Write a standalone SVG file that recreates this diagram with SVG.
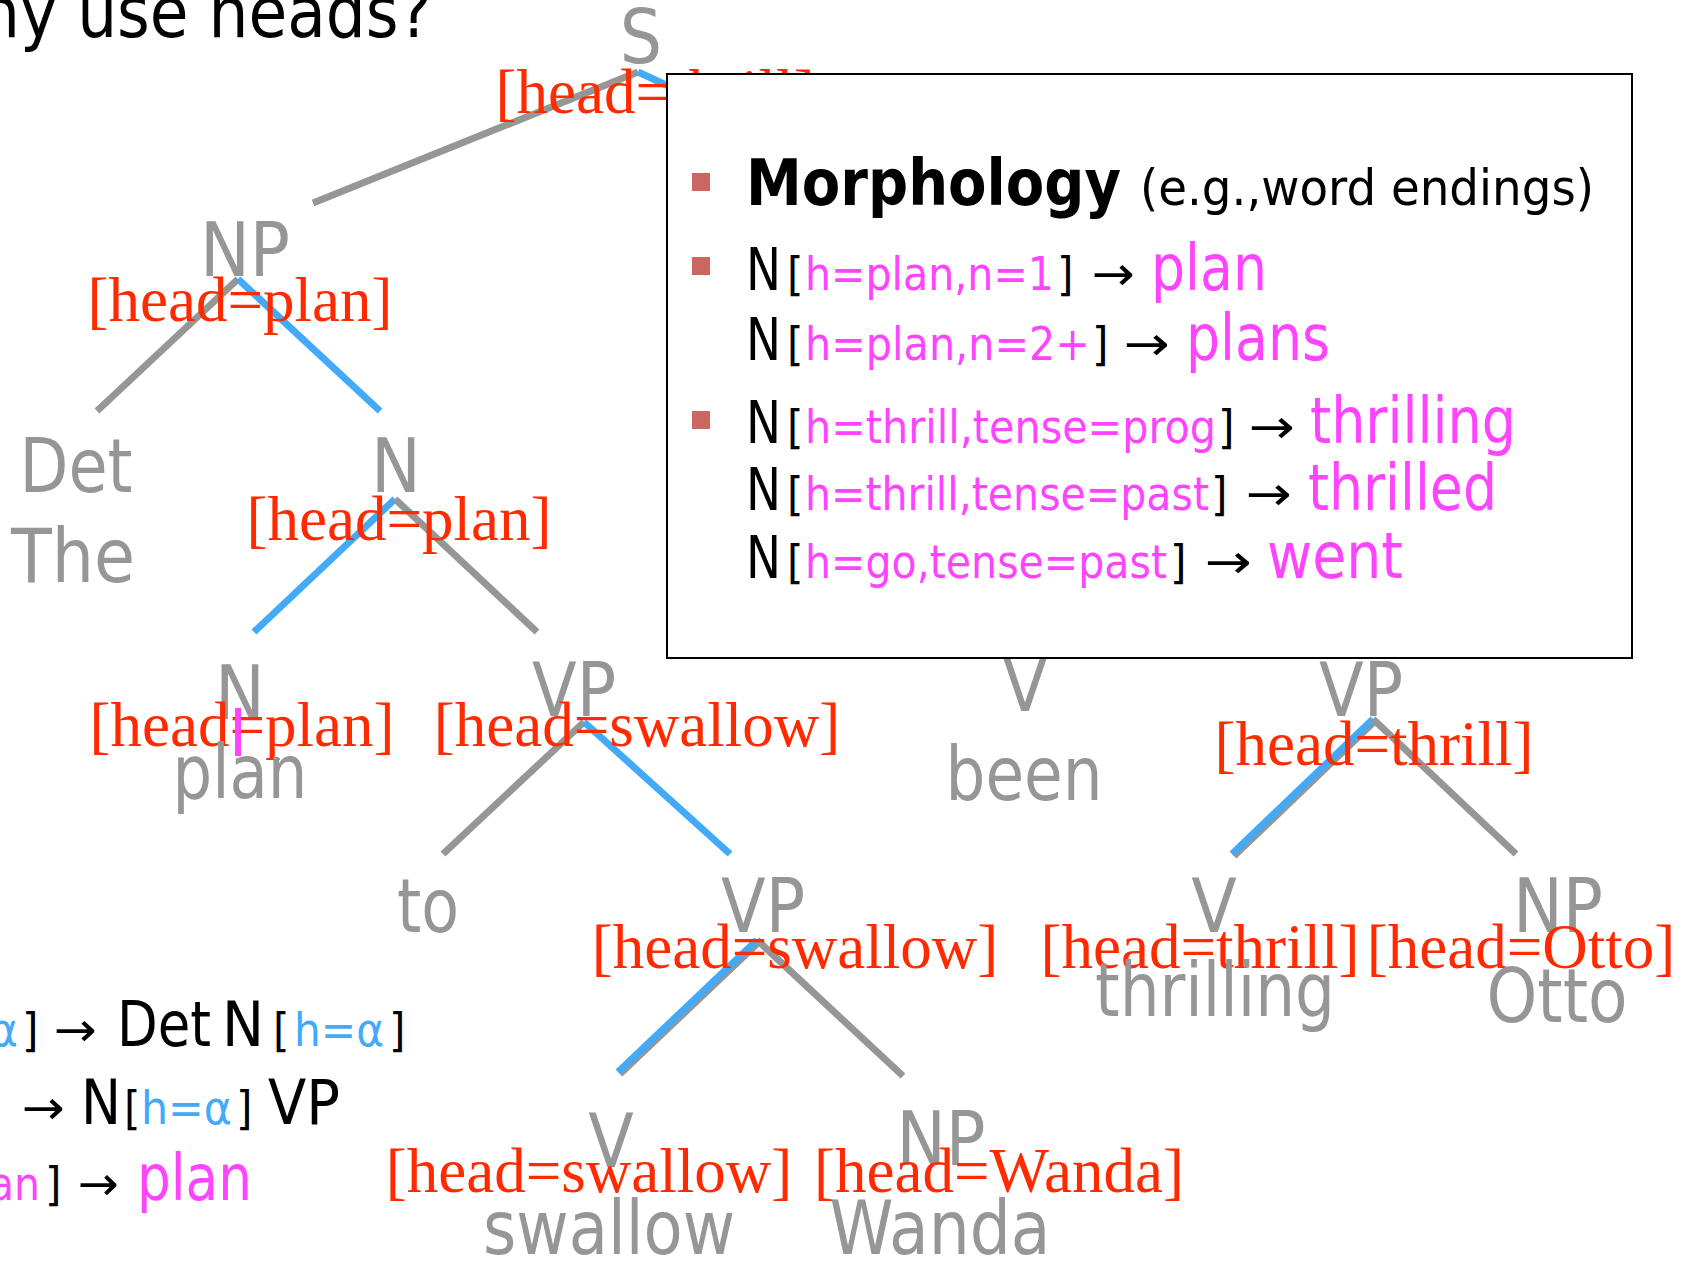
<svg xmlns="http://www.w3.org/2000/svg" width="1695" height="1265" viewBox="0 0 1695 1265">
  <style>
    .sans { font-family: "DejaVu Sans Condensed", "DejaVu Sans", sans-serif; font-stretch: condensed; }
    .node { font-family: "DejaVu Sans Condensed", "DejaVu Sans", sans-serif; font-stretch: condensed; font-size: 74px; fill: #969696; text-anchor: middle; }
    .head { font-family: "Liberation Serif", "Times New Roman", serif; font-size: 63px; fill: #ff2a00; text-anchor: middle; }
    .edge { stroke: #969696; stroke-width: 7; fill: none; stroke-linecap: butt; }
    .hedge { stroke: #42aaf8; stroke-width: 7; fill: none; stroke-linecap: butt; }
    .blk { fill: #000000; }
    .mag { fill: #ff44ff; }
    .blu { fill: #42aaf8; }
    .big { font-size: 62px; }
    .mid { font-size: 59px; }
    .small { font-size: 47px; }
    .word { font-size: 64px; }
    .bullet { fill: #cc6661; }
  </style>

  <!-- slide title, cropped at the left edge -->
  <text class="sans blk" x="-20" y="37" font-size="72" textLength="452" lengthAdjust="spacingAndGlyphs">hy use heads?</text>

  <!-- tree edges; blue marks the head child -->
  <g id="connectors">
    <line class="edge" x1="638" y1="72" x2="313" y2="203"/>
    <line class="hedge" x1="638" y1="72" x2="900" y2="193"/>
    <line class="edge" x1="238" y1="279" x2="97" y2="411"/>
    <line class="hedge" x1="238" y1="279" x2="380" y2="411"/>
    <line class="hedge" x1="395" y1="499" x2="254" y2="632"/>
    <line class="edge" x1="395" y1="499" x2="537" y2="632"/>
    <line class="edge" x1="584" y1="722" x2="443" y2="854"/>
    <line class="hedge" x1="584" y1="722" x2="730" y2="854"/>
    <line class="edge" x1="759" y1="942" x2="620" y2="1074"/>
    <line class="hedge" x1="757" y1="940" x2="618" y2="1072"/>
    <line class="edge" x1="757" y1="940" x2="903" y2="1076"/>
    <line class="edge" x1="1375" y1="721" x2="1234" y2="856"/>
    <line class="hedge" x1="1373" y1="719" x2="1232" y2="854"/>
    <line class="edge" x1="1373" y1="719" x2="1516" y2="854"/>
  </g>

  <!-- tree nodes -->
  <g id="node-S">
    <text class="node" x="641" y="63">S</text>
    <text class="head" x="655" y="113">[head=thrill]</text>
  </g>
  <g id="node-NP">
    <text class="node" x="245" y="276" textLength="90" lengthAdjust="spacingAndGlyphs">NP</text>
    <text class="head" x="240" y="321">[head=plan]</text>
  </g>
  <g id="node-Det">
    <text class="node" x="76" y="492" textLength="113" lengthAdjust="spacingAndGlyphs">Det</text>
    <text class="node" x="73" y="582" textLength="124" lengthAdjust="spacingAndGlyphs">The</text>
  </g>
  <g id="node-N1">
    <text class="node" x="396" y="492">N</text>
    <text class="head" x="399" y="540">[head=plan]</text>
  </g>
  <g id="node-N2">
    <text class="node" x="240" y="719">N</text>
    <text class="head" x="242" y="746">[head=plan]</text>
    <text class="node" x="240" y="798" textLength="135" lengthAdjust="spacingAndGlyphs">plan</text>
    <rect x="235" y="708" width="6" height="48" fill="#ff44ff"/>
  </g>
  <g id="node-VP1">
    <text class="node" x="574" y="716" textLength="84" lengthAdjust="spacingAndGlyphs">VP</text>
    <text class="head" x="637" y="746">[head=swallow]</text>
  </g>
  <g id="node-to">
    <text class="node" x="428" y="932" textLength="62" lengthAdjust="spacingAndGlyphs">to</text>
  </g>
  <g id="node-VP2">
    <text class="node" x="763" y="932" textLength="84" lengthAdjust="spacingAndGlyphs">VP</text>
    <text class="head" x="795" y="968">[head=swallow]</text>
  </g>
  <g id="node-V-swallow">
    <text class="node" x="611" y="1167">V</text>
    <text class="head" x="589" y="1192">[head=swallow]</text>
    <text class="node" x="609" y="1254" textLength="252" lengthAdjust="spacingAndGlyphs">swallow</text>
  </g>
  <g id="node-NP-Wanda">
    <text class="node" x="941" y="1165" textLength="89" lengthAdjust="spacingAndGlyphs">NP</text>
    <text class="head" x="999" y="1192">[head=Wanda]</text>
    <text class="node" x="940" y="1254" textLength="221" lengthAdjust="spacingAndGlyphs">Wanda</text>
  </g>
  <g id="node-V-been">
    <text class="node" x="1025" y="711">V</text>
    <text class="node" x="1024" y="800" textLength="157" lengthAdjust="spacingAndGlyphs">been</text>
  </g>
  <g id="node-VP3">
    <text class="node" x="1361" y="716" textLength="84" lengthAdjust="spacingAndGlyphs">VP</text>
    <text class="head" x="1374" y="765">[head=thrill]</text>
  </g>
  <g id="node-V-thrilling">
    <text class="node" x="1214" y="932">V</text>
    <text class="head" x="1200" y="968">[head=thrill]</text>
    <text class="node" x="1215" y="1016" textLength="240" lengthAdjust="spacingAndGlyphs">thrilling</text>
  </g>
  <g id="node-NP-Otto">
    <text class="node" x="1558" y="932" textLength="90" lengthAdjust="spacingAndGlyphs">NP</text>
    <text class="head" x="1521" y="968">[head=Otto]</text>
    <text class="node" x="1557" y="1022" textLength="141" lengthAdjust="spacingAndGlyphs">Otto</text>
  </g>

  <!-- grammar rules, cropped at the left edge -->
  <g id="rules" class="sans">
    <text class="blu small" x="-10" y="1046" textLength="28" lengthAdjust="spacingAndGlyphs">α</text>
    <text class="blk small" x="22" y="1046">]</text>
    <text class="blk small" x="54" y="1046" textLength="43" lengthAdjust="spacingAndGlyphs">→</text>
    <text class="blk big" x="117" y="1046" textLength="94" lengthAdjust="spacingAndGlyphs">Det</text>
    <text class="blk big" x="222" y="1046" textLength="42" lengthAdjust="spacingAndGlyphs">N</text>
    <text class="blk small" x="273" y="1046">[</text>
    <text class="blu small" x="294" y="1046" textLength="90" lengthAdjust="spacingAndGlyphs">h=α</text>
    <text class="blk small" x="389" y="1046">]</text>

    <text class="blk small" x="22" y="1124" textLength="43" lengthAdjust="spacingAndGlyphs">→</text>
    <text class="blk big" x="81" y="1124" textLength="40" lengthAdjust="spacingAndGlyphs">N</text>
    <text class="blk small" x="124" y="1124">[</text>
    <text class="blu small" x="141" y="1124" textLength="91" lengthAdjust="spacingAndGlyphs">h=α</text>
    <text class="blk small" x="236" y="1124">]</text>
    <text class="blk big" x="268" y="1124" textLength="72" lengthAdjust="spacingAndGlyphs">VP</text>

    <text class="mag small" x="-11" y="1200" textLength="51" lengthAdjust="spacingAndGlyphs">an</text>
    <text class="blk small" x="45" y="1200">]</text>
    <text class="blk small" x="78" y="1200" textLength="41" lengthAdjust="spacingAndGlyphs">→</text>
    <text class="mag word" x="137" y="1200" textLength="115" lengthAdjust="spacingAndGlyphs">plan</text>
  </g>

  <!-- morphology call-out box drawn over the tree -->
  <g id="morphology-box" class="sans">
    <rect x="667" y="74" width="965" height="584" fill="#ffffff" stroke="#000000" stroke-width="2"/>
    <rect class="bullet" x="692" y="173" width="18" height="18"/>
    <rect class="bullet" x="692" y="257" width="18" height="18"/>
    <rect class="bullet" x="692" y="411" width="18" height="18"/>

    <text class="blk" x="746" y="205" font-size="64" font-weight="bold" textLength="375" lengthAdjust="spacingAndGlyphs">Morphology</text>
    <text class="blk" x="1140" y="205" font-size="50" textLength="454" lengthAdjust="spacingAndGlyphs">(e.g.,word endings)</text>

    <text class="blk mid" x="746" y="290" textLength="35" lengthAdjust="spacingAndGlyphs">N</text>
    <text class="blk small" x="787" y="290">[</text>
    <text class="mag small" x="805" y="290" textLength="249" lengthAdjust="spacingAndGlyphs">h=plan,n=1</text>
    <text class="blk small" x="1057" y="290">]</text>
    <text class="blk small" x="1092" y="290" textLength="43" lengthAdjust="spacingAndGlyphs">→</text>
    <text class="mag word" x="1151" y="290" textLength="116" lengthAdjust="spacingAndGlyphs">plan</text>

    <text class="blk mid" x="746" y="360" textLength="35" lengthAdjust="spacingAndGlyphs">N</text>
    <text class="blk small" x="787" y="360">[</text>
    <text class="mag small" x="805" y="360" textLength="285" lengthAdjust="spacingAndGlyphs">h=plan,n=2+</text>
    <text class="blk small" x="1092" y="360">]</text>
    <text class="blk small" x="1124" y="360" textLength="46" lengthAdjust="spacingAndGlyphs">→</text>
    <text class="mag word" x="1186" y="360" textLength="144" lengthAdjust="spacingAndGlyphs">plans</text>

    <text class="blk mid" x="746" y="443" textLength="35" lengthAdjust="spacingAndGlyphs">N</text>
    <text class="blk small" x="787" y="443">[</text>
    <text class="mag small" x="805" y="443" textLength="411" lengthAdjust="spacingAndGlyphs">h=thrill,tense=prog</text>
    <text class="blk small" x="1218" y="443">]</text>
    <text class="blk small" x="1249" y="443" textLength="46" lengthAdjust="spacingAndGlyphs">→</text>
    <text class="mag word" x="1310" y="443" textLength="206" lengthAdjust="spacingAndGlyphs">thrilling</text>

    <text class="blk mid" x="746" y="510" textLength="35" lengthAdjust="spacingAndGlyphs">N</text>
    <text class="blk small" x="787" y="510">[</text>
    <text class="mag small" x="805" y="510" textLength="404" lengthAdjust="spacingAndGlyphs">h=thrill,tense=past</text>
    <text class="blk small" x="1211" y="510">]</text>
    <text class="blk small" x="1246" y="510" textLength="46" lengthAdjust="spacingAndGlyphs">→</text>
    <text class="mag word" x="1308" y="510" textLength="189" lengthAdjust="spacingAndGlyphs">thrilled</text>

    <text class="blk mid" x="746" y="578" textLength="35" lengthAdjust="spacingAndGlyphs">N</text>
    <text class="blk small" x="787" y="578">[</text>
    <text class="mag small" x="805" y="578" textLength="362" lengthAdjust="spacingAndGlyphs">h=go,tense=past</text>
    <text class="blk small" x="1170" y="578">]</text>
    <text class="blk small" x="1205" y="578" textLength="47" lengthAdjust="spacingAndGlyphs">→</text>
    <text class="mag word" x="1267" y="578" textLength="136" lengthAdjust="spacingAndGlyphs">went</text>
  </g>
</svg>
